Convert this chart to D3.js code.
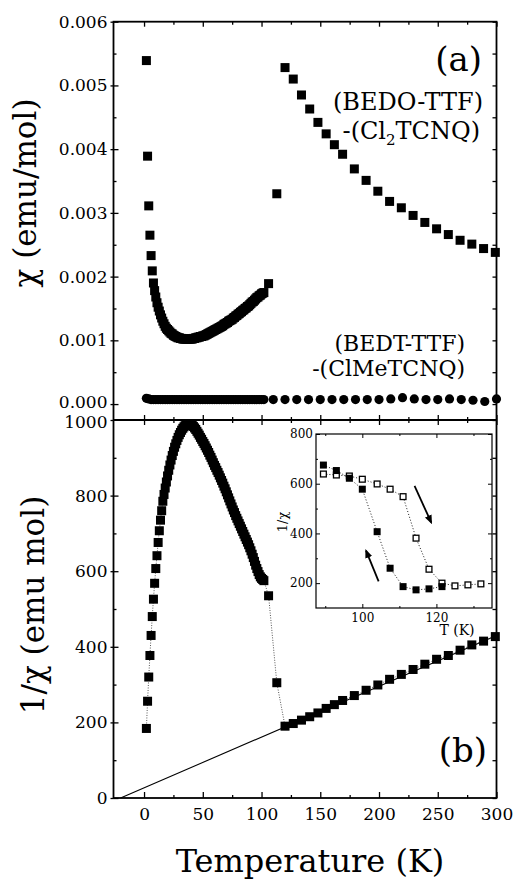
<!DOCTYPE html>
<html>
<head>
<meta charset="utf-8">
<script src="https://cdnjs.cloudflare.com/ajax/libs/d3/7.8.5/d3.min.js"></script>
<style>
body{margin:0;background:#fff;}
svg text{font-family:"DejaVu Serif",serif;fill:#000;}
</style>
</head>
<body>
<div id="chart"></div>
<script>
// panel (a): chi of (BEDO-TTF)(Cl2TCNQ), squares
let tempA = [2,3,4,5,6,7,
    8,9,10,11,12,13,14,15,16,17,18,19,20,21,22,23,24,25,26,27,28,29,30,31,32,33,34,35,36,37,38,39,40,
    41,42,43,44,45,46,47,48,49,50,51,52,53,54,55,56,57,58,59,60,61,62,63,64,65,66,67,68,69,70,
    71,72,73,74,75,76,77,78,79,80,81,82,83,84,85,86,87,88,89,90,91,92,93,94,95,96,97,98,99,100,101,102,
    106,113,120,127,134,141,148,155,162,169,179,189,199,209,219,229,239,249,259,269,279,289,299];
let chiA = [0.00539,0.00389,0.00311,0.00265,0.00233,0.00209,
    0.00190,0.00178,0.00168,0.00159,0.00152,0.00146,0.00140,0.00135,0.00130,0.00126,0.00122,0.00119,0.00117,
    0.00115,0.00113,0.00111,0.00110,0.00108,0.00107,0.00106,0.00105,0.00104,0.00104,0.00103,0.00103,0.00102,
    0.00102,0.00102,0.00102,0.00102,0.00102,0.00102,0.00102,
    0.00102,0.00103,0.00103,0.00104,0.00104,0.00105,0.00105,0.00106,0.00106,0.00107,0.00107,0.00108,0.00109,
    0.00110,0.00111,0.00112,0.00113,0.00114,0.00115,0.00116,0.00117,0.00118,0.00119,0.00120,0.00121,0.00122,
    0.00123,0.00125,0.00126,0.00127,
    0.00128,0.00130,0.00131,0.00132,0.00133,0.00135,0.00136,0.00138,0.00139,0.00141,0.00142,0.00144,0.00145,
    0.00147,0.00148,0.00150,0.00151,0.00153,0.00154,0.00156,0.00158,0.00160,0.00161,0.00163,0.00165,0.00167,
    0.00168,0.00170,0.00171,0.00173,0.00174,0.00175,
    0.00189,0.00330,0.00528,0.00510,0.00485,0.00463,0.00442,0.00424,0.00407,0.00392,0.00369,0.00351,0.00334,0.00318,
    0.00308,0.00296,0.00285,0.00275,0.00266,0.00257,0.00251,0.00244,0.00238];

// panel (a): chi of (BEDT-TTF)(ClMeTCNQ), circles
let tempC = [2,4,6,8,10,12,14,16,18,20,22,24,26,28,30,32,34,36,38,40,42,44,46,48,50,
    52,54,56,58,60,62,64,66,68,70,72,74,76,78,80,82,84,86,88,90,92,94,96,98,100,102,
    110,120,130,140,150,160,170,180,190,200,210,220,230,240,250,260,270,280,290,300];
let chiC = [0.00009,0.00008,0.00007,0.00007,0.00007,0.00007,0.00007,0.00007,0.00007,0.00007,0.00007,0.00007,0.00007,
    0.00007,0.00007,0.00007,0.00007,0.00007,0.00007,0.00007,0.00007,0.00007,0.00007,0.00007,0.00007,0.00007,
    0.00007,0.00007,0.00007,0.00007,0.00007,0.00007,0.00007,0.00007,0.00007,0.00007,0.00007,0.00007,0.00007,
    0.00007,0.00007,0.00007,0.00007,0.00007,0.00007,0.00007,0.00007,0.00007,0.00007,0.00007,0.00007,
    0.00007,0.00007,0.00007,0.00007,0.00007,0.00007,0.00007,0.00007,0.00007,0.00007,0.00008,0.00010,0.00008,
    0.00007,0.00007,0.00008,0.00007,0.00006,0.00004,0.00008];

// panel (b): 1/chi of (BEDO-TTF)(Cl2TCNQ)
let tempB = [2,3,4,5,6,7,8,9,10,11,12,13,14,15,
    16,17,18,19,20,21,22,23,24,25,26,27,28,29,30,31,32,33,34,35,36,37,38,39,40,
    41,42,43,44,45,46,47,48,49,50,51,52,53,54,55,56,57,58,59,60,61,62,63,64,65,66,67,68,69,70,
    71,72,73,74,75,76,77,78,79,80,81,82,83,84,85,86,87,88,89,90,91,92,93,94,95,96,97,98,99,100,101,102,
    106,113,120,127,134,141,148,155,162,169,179,189,199,209,219,229,239,249,259,269,279,289,299];
let invChiB = [184,256,320,377,430,480,526,568,607,641,676,707,735,760,
    785,803,820,836,852,867,881,894,906,917,928,937,946,954,961,967,973,978,982,985,988,989,990,990,988,
    986,983,979,975,970,965,960,954,949,943,938,932,926,920,914,907,901,894,887,880,874,867,861,854,847,840,
    833,825,818,810,
    802,794,786,778,770,762,755,747,740,733,726,719,712,705,698,691,684,677,670,662,654,645,636,626,616,607,
    599,591,585,581,578,575,
    535,305,190,197,206,215,225,237,247,258,271,285,299,314,327,340,354,367,377,391,405,415,427];

// Curie-Weiss fit line (T, 1/chi)
let fitLine = [[-20,0],[300,430]];

// inset: cooling (filled) and heating (open)
let tempCool = [89.5,93,96.5,100,104,107.5,111,114.5,118,121.5];
let invCool = [675,653,622,578,407,260,186,173,177,186];
let tempHeat = [89.5,93,96.5,100,104,107.5,111,114.5,118,121.5,125,128.5,132];
let invHeat = [639,635,631,618,599,578,548,381,256,200,189,193,197];
let arrows = [{t1:114.1,v1:591,t2:118.6,v2:444},{t1:104.4,v1:207,t2:101,v2:331}];

let xMajor = [0,50,100,150,200,250,300];
let xMinor = [25,75,125,175,225,275];
let yTopMajor = [0,0.001,0.002,0.003,0.004,0.005,0.006];
let yTopMinor = [0.0005,0.0015,0.0025,0.0035,0.0045,0.0055];
let yBotMajor = [0,200,400,600,800,1000];
let yBotMinor = [100,300,500,700,900];
let inXMajor = [100,120];
let inXMinor = [90,110,130];
let inYMajor = [200,400,600,800];
let inYMinor = [300,500,700];

let screen = {width:514, height:884};
let frame = {left:113.5, right:496.5, top:21.7, mid:420, bottom:798};
let inset = {left:316, right:492, top:434, bottom:608};

let xScale = d3.scaleLinear().domain([-26,300]).range([frame.left,frame.right]);
let yTop = d3.scaleLinear().domain([-0.00025,0.006]).range([frame.mid,frame.top]);
let yBot = d3.scaleLinear().domain([0,1000]).range([frame.bottom,frame.mid]);
let xIn = d3.scaleLinear().domain([87.5,135]).range([inset.left,inset.right]);
let yIn = d3.scaleLinear().domain([100,800]).range([inset.bottom,inset.top]);

let svg = d3.select("#chart").append("svg")
    .attr("width",screen.width)
    .attr("height",screen.height);

svg.append("defs").append("marker")
    .attr("id","arrow")
    .attr("viewBox","0 0 10 10")
    .attr("refX",8).attr("refY",5)
    .attr("markerWidth",5).attr("markerHeight",5)
    .attr("orient","auto")
    .append("path").attr("d","M0,1 L10,5 L0,9 Z").attr("fill","#000");

// axis helper: dir "x" -> horizontal axis at y=pos, "y" -> vertical axis at x=pos
let drawAxis = function(gen, dir, pos, values, size, fmt, fontSize, pad)
{
    let a = gen.tickValues(values).tickSizeInner(size).tickSizeOuter(0)
        .tickPadding(pad || 3).tickFormat(fmt || "");
    let g = svg.append("g")
        .attr("transform", dir == "x" ? "translate(0,"+pos+")" : "translate("+pos+",0)")
        .call(a);
    g.select(".domain").remove();
    g.selectAll("line").attr("stroke","#000").attr("stroke-width",1.3);
    g.attr("font-size",fontSize || 17);
    return g;
};

// main axes ticks
let chiAxis = drawAxis(d3.axisLeft(yTop),"y",frame.left,yTopMajor,-5,d3.format(".3f"),17,6);
chiAxis.selectAll("text").filter(function(d){ return d == 0; }).attr("y",-2);
drawAxis(d3.axisLeft(yTop),"y",frame.left,yTopMajor,3);
drawAxis(d3.axisRight(yTop),"y",frame.left,yTopMinor,3);
drawAxis(d3.axisLeft(yTop),"y",frame.right,yTopMajor.concat(yTopMinor),4);
drawAxis(d3.axisLeft(yBot),"y",frame.left,yBotMajor.slice(0,5),-5,d3.format("d"),17,6);
let topLabel = drawAxis(d3.axisLeft(yBot),"y",frame.left,[1000],0,d3.format("d"),17,6);
topLabel.selectAll("text").attr("y",2);
drawAxis(d3.axisLeft(yBot),"y",frame.left,yBotMajor,3);
drawAxis(d3.axisRight(yBot),"y",frame.left,yBotMinor,3);
drawAxis(d3.axisLeft(yBot),"y",frame.right,yBotMinor.concat(yBotMajor),4);
drawAxis(d3.axisBottom(xScale),"x",frame.top,xMajor,5);
drawAxis(d3.axisBottom(xScale),"x",frame.top,xMinor,3);
drawAxis(d3.axisBottom(xScale),"x",frame.mid,xMajor,5);
drawAxis(d3.axisTop(xScale),"x",frame.mid,xMajor,5);
drawAxis(d3.axisBottom(xScale),"x",frame.mid,xMinor,3);
drawAxis(d3.axisTop(xScale),"x",frame.mid,xMinor,3);
drawAxis(d3.axisBottom(xScale),"x",frame.bottom,xMajor,-6,d3.format("d"),17,10);
drawAxis(d3.axisBottom(xScale),"x",frame.bottom,xMinor,-3);

// frames
svg.append("rect")
    .attr("x",frame.left).attr("y",frame.top)
    .attr("width",frame.right-frame.left).attr("height",frame.bottom-frame.top)
    .attr("fill","none").attr("stroke","#000").attr("stroke-width",1.8);
svg.append("line")
    .attr("x1",frame.left).attr("x2",frame.right)
    .attr("y1",frame.mid).attr("y2",frame.mid)
    .attr("stroke","#000").attr("stroke-width",1.8);

// panel (a)
let sq = 9;
svg.append("g").selectAll("circle")
    .data(tempC)
    .enter()
    .append("circle")
    .attr("cx",function(d){ return xScale(d); })
    .attr("cy",function(d,i){ return yTop(chiC[i]); })
    .attr("r",4.6)
    .attr("fill","#000");

svg.append("g").selectAll("rect")
    .data(tempA)
    .enter()
    .append("rect")
    .attr("x",function(d){ return xScale(d)-sq/2; })
    .attr("y",function(d,i){ return yTop(chiA[i])-sq/2; })
    .attr("width",sq).attr("height",sq)
    .attr("fill","#000");

// panel (b)
svg.append("path")
    .datum(fitLine)
    .attr("d",d3.line().x(function(d){ return xScale(d[0]); }).y(function(d){ return yBot(d[1]); }))
    .attr("fill","none").attr("stroke","#000").attr("stroke-width",1.1);

svg.append("path")
    .datum(tempB)
    .attr("d",d3.line().x(function(d){ return xScale(d); }).y(function(d,i){ return yBot(invChiB[i]); }))
    .attr("fill","none").attr("stroke","#444").attr("stroke-width",0.9)
    .attr("stroke-dasharray","1,1.5");

svg.append("g").selectAll("rect")
    .data(tempB)
    .enter()
    .append("rect")
    .attr("x",function(d){ return xScale(d)-sq/2; })
    .attr("y",function(d,i){ return yBot(invChiB[i])-sq/2; })
    .attr("width",sq).attr("height",sq)
    .attr("fill","#000");

// inset
svg.append("rect")
    .attr("x",inset.left).attr("y",inset.top)
    .attr("width",inset.right-inset.left).attr("height",inset.bottom-inset.top)
    .attr("fill","#fff").attr("stroke","#000").attr("stroke-width",1.2);

let insetAxis = function(gen, dir, pos, values, size, fmt, pad)
{
    let g = drawAxis(gen,dir,pos,values,size,fmt,12,pad);
    g.selectAll("line").attr("stroke-width",1);
    return g;
};
insetAxis(d3.axisBottom(xIn),"x",inset.bottom,inXMajor,-4,d3.format("d"),5);
insetAxis(d3.axisBottom(xIn),"x",inset.bottom,inXMinor,-2);
insetAxis(d3.axisTop(xIn),"x",inset.top,inXMajor,-4);
insetAxis(d3.axisTop(xIn),"x",inset.top,inXMinor,-2);
insetAxis(d3.axisLeft(yIn),"y",inset.left,inYMajor,-4,d3.format("d"),3);
insetAxis(d3.axisLeft(yIn),"y",inset.left,inYMinor,-2);
insetAxis(d3.axisRight(yIn),"y",inset.right,inYMajor,-4);
insetAxis(d3.axisRight(yIn),"y",inset.right,inYMinor,-2);

let insetLine = function(xs, ys)
{
    svg.append("path")
        .datum(xs)
        .attr("d",d3.line().x(function(d){ return xIn(d); }).y(function(d,i){ return yIn(ys[i]); }))
        .attr("fill","none").attr("stroke","#000").attr("stroke-width",0.9)
        .attr("stroke-dasharray","1,2");
};
insetLine(tempHeat,invHeat);
insetLine(tempCool,invCool);

let isq = 7;
svg.append("g").selectAll("rect")
    .data(tempHeat)
    .enter()
    .append("rect")
    .attr("x",function(d){ return xIn(d)-isq/2+0.6; })
    .attr("y",function(d,i){ return yIn(invHeat[i])-isq/2+0.6; })
    .attr("width",isq-1.2).attr("height",isq-1.2)
    .attr("fill","#fff").attr("stroke","#000").attr("stroke-width",1.3);

svg.append("g").selectAll("rect")
    .data(tempCool)
    .enter()
    .append("rect")
    .attr("x",function(d){ return xIn(d)-isq/2; })
    .attr("y",function(d,i){ return yIn(invCool[i])-isq/2; })
    .attr("width",isq).attr("height",isq)
    .attr("fill","#000");

svg.append("g").selectAll("line")
    .data(arrows)
    .enter()
    .append("line")
    .attr("x1",function(d){ return xIn(d.t1); })
    .attr("y1",function(d){ return yIn(d.v1); })
    .attr("x2",function(d){ return xIn(d.t2); })
    .attr("y2",function(d){ return yIn(d.v2); })
    .attr("stroke","#000").attr("stroke-width",1.8)
    .attr("marker-end","url(#arrow)");

// text
let label = function(txt, x, y, size, anchor, rot)
{
    let t = svg.append("text")
        .attr("font-size",size)
        .attr("text-anchor",anchor || "end")
        .text(txt);
    if(rot)
        t.attr("transform","translate("+x+","+y+") rotate(-90)");
    else
        t.attr("x",x).attr("y",y);
    return t;
};

label("(a)",482,71,34);
label("(BEDO-TTF)",483,110,24);
let cl2 = label("-(Cl",480,139,24);
cl2.append("tspan").attr("font-size",15).attr("dy",6).text("2");
cl2.append("tspan").attr("dy",-6).text("TCNQ)");
label("(BEDT-TTF)",465,351,22);
label("-(ClMeTCNQ)",465,376,22);
label("(b)",487,762,34);
label("\u03c7 (emu/mol)",36,193,31,"middle",true);
label("1/\u03c7 (emu mol)",44,605,31,"middle",true);
label("Temperature (K)",310,872,32,"middle");
label("1/\u03c7",287,522,13,"middle",true);
label("T (K)",457,635,14,"middle");
</script>
</body>
</html>
